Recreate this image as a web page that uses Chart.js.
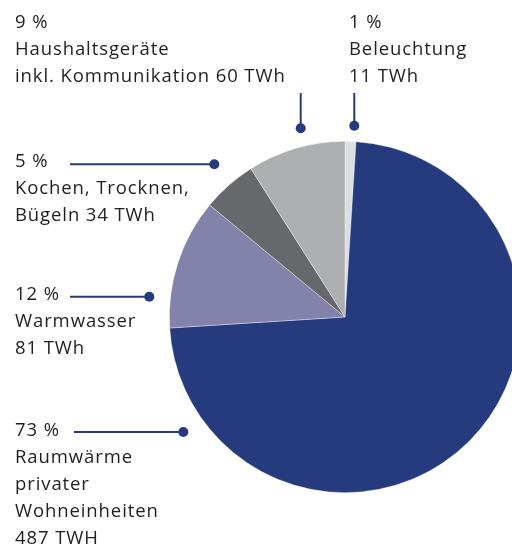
<!DOCTYPE html>
<html>
<head>
<meta charset="utf-8">
<script src="https://cdn.jsdelivr.net/npm/chart.js@4/dist/chart.umd.min.js"></script>
<style>
  html, body { margin: 0; padding: 0; width: 512px; height: 547px; overflow: hidden; background: #fff; }
  #wrap { position: absolute; left: 0; top: 0; width: 690px; height: 547px; }
  .lbl { position: absolute; left: 0; top: 0; font-family: "Open Sans", Lato, sans-serif; font-size: 18.5px; letter-spacing: 0.9px; color: #1f1f1f; line-height: 27px; white-space: nowrap; }
</style>
</head>
<body>
<div id="wrap"><canvas id="c"></canvas></div>
<div id="labels"></div>
<script>
// ---- data ----
const categories = ["Beleuchtung", "Raumwärme privater Wohneinheiten", "Warmwasser", "Kochen, Trocknen, Bügeln", "Haushaltsgeräte inkl. Kommunikation"];
const percentValues = [1, 73, 12, 5, 9];
const twhValues = [11, 487, 81, 34, 60];
const labelLines = [
  ["1 %", "Beleuchtung", "11 TWh"],
  ["73 %", "Raumwärme", "privater", "Wohneinheiten", "487 TWH"],
  ["12 %", "Warmwasser", "81 TWh"],
  ["5 %", "Kochen, Trocknen,", "Bügeln 34 TWh"],
  ["9 %", "Haushaltsgeräte", "inkl. Kommunikation 60 TWh"]
];
const colors = ["#dcdde0", "#253b7d", "#8382aa", "#67686c", "#aeafb1"];

// ---- layout (annotation positions, px) ----
const labelPos = [ {x:349, y:7}, {x:15, y:415}, {x:15, y:279}, {x:15, y:146}, {x:15, y:7} ];
// leader: [x1,y1,x2,y2] line, dot at (x2,y2)
const leaders = [
  [354.3, 93, 354.3, 125.7],
  [74, 432, 183.3, 432],
  [70, 296.7, 149.3, 296.7],
  [70, 164.3, 214.3, 164.3],
  [300.7, 93, 300.7, 128.3]
];
const leaderColor = "#253b7d";

const labelsDiv = document.getElementById('labels');
labelLines.forEach((lines, i) => {
  const d = document.createElement('div');
  d.className = 'lbl';
  d.style.left = labelPos[i].x + 'px';
  d.style.top = labelPos[i].y + 'px';
  d.innerHTML = lines.map(s => s.replace(/&/g,'&amp;').replace(/</g,'&lt;')).join('<br>');
  labelsDiv.appendChild(d);
});

const leaderPlugin = {
  id: 'leaders',
  afterDraw(chart) {
    const ctx = chart.ctx;
    ctx.save();
    ctx.strokeStyle = leaderColor;
    ctx.fillStyle = leaderColor;
    ctx.lineWidth = 2;
    leaders.forEach(l => {
      ctx.beginPath();
      ctx.moveTo(l[0], l[1]);
      ctx.lineTo(l[2], l[3]);
      ctx.stroke();
      ctx.beginPath();
      ctx.arc(l[2], l[3], 5, 0, Math.PI * 2);
      ctx.fill();
    });
    ctx.restore();
  }
};

new Chart(document.getElementById('c'), {
  type: 'pie',
  data: {
    labels: categories,
    datasets: [{
      data: percentValues,
      backgroundColor: colors,
      borderColor: 'rgba(255,255,255,0.5)',
      borderWidth: 0.7
    }]
  },
  options: {
    responsive: true,
    maintainAspectRatio: false,
    animation: false,
    rotation: 0,
    layout: { padding: { left: 169, right: 169, top: 141, bottom: 54 } },
    plugins: { legend: { display: false }, tooltip: { enabled: false } }
  },
  plugins: [leaderPlugin]
});
</script>
</body>
</html>
